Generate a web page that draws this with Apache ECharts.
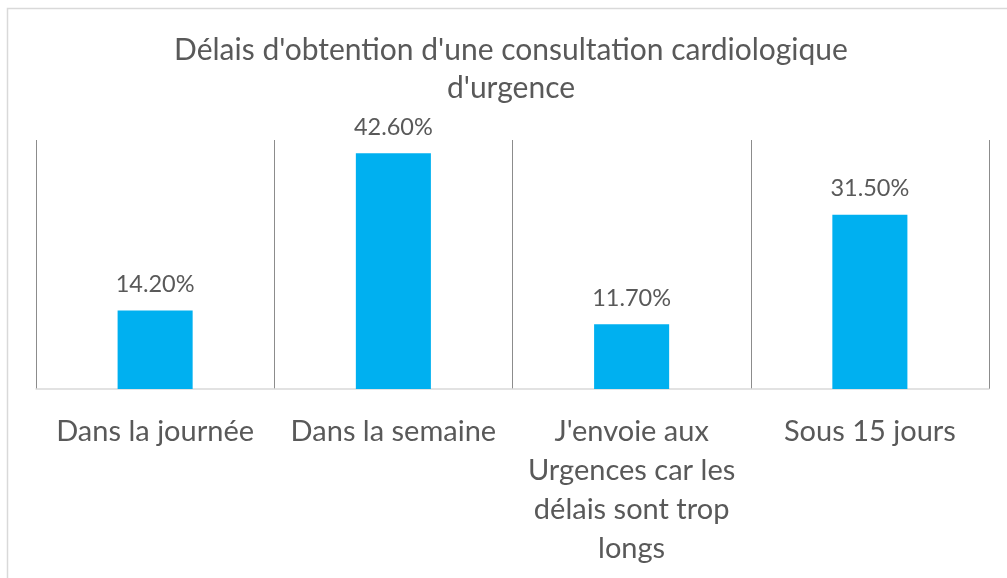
<!DOCTYPE html>
<html>
<head>
<meta charset="utf-8">
<script src="https://cdn.jsdelivr.net/npm/echarts@6/dist/echarts.min.js"></script>
<style>
  html, body { margin: 0; padding: 0; background: #fff; }
  #main { width: 1007px; height: 578px; }
</style>
</head>
<body>
<div id="main"></div>
<script>
// données du graphique
const categories = ['Dans la journée', 'Dans la semaine', "J'envoie aux\nUrgences car les\ndélais sont trop\nlongs", 'Sous 15 jours'];
const values = [14.2, 42.6, 11.7, 31.5];
const titleText = "Délais d'obtention d'une consultation cardiologique\nd'urgence";

const FONT = 'Lato';
const TXT = '#595959';

let chart = echarts.init(document.getElementById('main'), null, { renderer: 'canvas' });

chart.setOption({
  animation: false,
  backgroundColor: '#fff',
  title: {
    text: titleText,
    left: 511,
    top: 31,
    textAlign: 'center',
    padding: 0,
    textStyle: { fontFamily: FONT, fontSize: 30, fontWeight: 'normal', color: TXT, lineHeight: 38 }
  },
  graphic: [{
    type: 'rect',
    shape: { x: 7.5, y: 8.5, width: 1020, height: 600 },
    style: { fill: 'none', stroke: '#d9d9d9', lineWidth: 1.5 },
    silent: true
  }],
  grid: { left: 36, right: 18, top: 140, bottom: 189 },
  xAxis: {
    type: 'category',
    data: categories,
    axisTick: { show: false },
    axisLine: { lineStyle: { color: '#d9d9d9', width: 1.5 } },
    splitLine: { show: true, lineStyle: { color: '#8c8c8c', width: 1 } },
    axisLabel: {
      interval: 0, margin: 23,
      fontFamily: FONT, fontSize: 29, color: TXT, lineHeight: 39
    }
  },
  yAxis: {
    type: 'value',
    min: 0, max: 45, interval: 5,
    show: false
  },
  series: [{
    type: 'bar',
    data: values,
    barWidth: '31.5%',
    itemStyle: { color: '#00B0F0' },
    label: {
      show: true, position: 'top', distance: 14,
      fontFamily: FONT, fontSize: 23.5, color: TXT,
      formatter: p => p.value.toFixed(2) + '%'
    }
  }]
});
</script>
</body>
</html>
